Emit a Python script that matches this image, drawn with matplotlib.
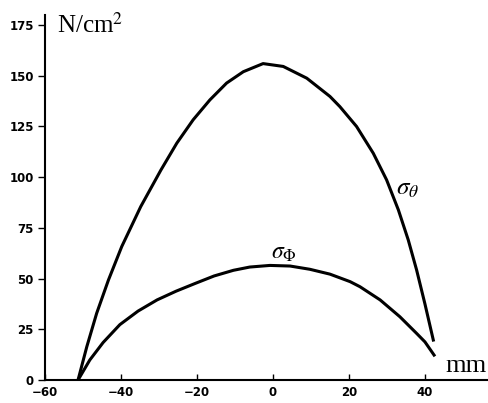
import matplotlib
matplotlib.use('Agg')
import matplotlib.pyplot as plt

plt.rcParams['mathtext.fontset'] = 'stix'

# values (x in mm, stress in N/cm^2)
x_theta = [-51.3, -49.0, -46.4, -43.3, -39.8, -34.8, -29.5, -25.3, -21.0, -16.6,
           -12.2, -7.8, -2.6, 2.7, 8.9, 15.0, 17.6, 22.0, 26.4, 29.9,
           33.0, 35.6, 37.8, 40.0, 42.2]
s_theta = [0, 16.4, 32.9, 49.3, 65.8, 85.5, 103.5, 116.8, 128.3, 138.1,
           146.4, 152.0, 156.0, 154.6, 148.8, 139.8, 134.8, 125.0, 111.8, 98.7,
           83.9, 69.1, 54.3, 37.5, 19.7]

x_phi = [-51.3, -48.2, -44.7, -40.3, -35.5, -30.5, -25.5, -20.5, -15.5, -10.4,
         -6.1, -0.8, 4.5, 9.7, 15.0, 20.3, 22.9, 28.2, 33.4, 37.8,
         40.0, 42.4]
s_phi = [0, 9.9, 18.5, 27.3, 34.0, 39.5, 43.8, 47.6, 51.3, 54.1,
         55.7, 56.5, 56.2, 54.6, 52.2, 48.5, 46.0, 39.5, 31.2, 23.0,
         18.8, 12.3]

xticks = [-60, -40, -20, 0, 20, 40]
yticks = [0, 25, 50, 75, 100, 125, 150, 175]

fig = plt.figure(figsize=(4.89, 4.03), dpi=100)
ax = fig.add_axes([0.092, 0.057, 0.906, 0.906])

ax.plot(x_theta, s_theta, color='black', lw=2.2, solid_joinstyle='round')
ax.plot(x_phi, s_phi, color='black', lw=2.2, solid_joinstyle='round')

ax.set_xlim(-60, 56.6)
ax.set_ylim(0, 180)
ax.spines['top'].set_visible(False)
ax.spines['right'].set_visible(False)
ax.spines['left'].set_linewidth(1.5)
ax.spines['bottom'].set_linewidth(1.5)

ax.set_xticks(xticks)
ax.set_yticks(yticks)
ax.tick_params(axis='x', direction='in', length=4, width=1, pad=4)
ax.tick_params(axis='y', direction='out', length=5, width=1, pad=3)
for lab in ax.get_xticklabels() + ax.get_yticklabels():
    lab.set_fontweight('bold')
    lab.set_fontsize(8.5)
ax.set_xticklabels(['\u2212' + str(-t) if t < 0 else str(t) for t in xticks])

ax.text(-56.8, 171, r'N/cm$^2$', fontsize=18, family='Liberation Serif',
        va='baseline', ha='left', clip_on=False)
ax.text(56.3, 4, 'mm', fontsize=19, family='Liberation Serif',
        va='baseline', ha='right')
ax.text(35.5, 94.5, r'$\sigma_\theta$', fontsize=18, va='center', ha='center')
ax.text(3.0, 63, r'$\sigma_\Phi$', fontsize=17, va='center', ha='center')

fig.savefig('out.png', dpi=100)
